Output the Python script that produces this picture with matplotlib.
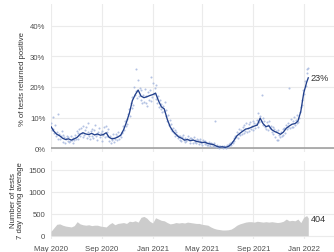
import matplotlib
matplotlib.use("Agg")
import matplotlib.pyplot as plt
import matplotlib.dates as mdates
import numpy as np
import pandas as pd

plt.rcParams['font.family'] = ['Liberation Sans', 'DejaVu Sans']

start = pd.Timestamp("2020-05-01")

# daily positivity (%), one value every 2 days from 1 May 2020
daily_pct = [
    8.1, 5.9, 10.2, 6.3, 4.8, 7.5, 3.9,
    5.2, 3.1, 11.3, 4.6, 2.8, 3.9, 5.6,
    2.1, 4.3, 3.5, 1.8, 2.9, 4.1, 2.4,
    3.6, 1.9, 2.2, 4.0, 2.7, 1.5, 3.3,
    2.6, 4.4, 3.1, 5.5, 2.9, 4.8, 6.1,
    3.8, 6.4, 4.9, 3.7, 7.1, 4.2, 5.8,
    6.9, 3.4, 5.2, 8.3, 4.0, 2.9, 5.6,
    4.1, 6.2, 3.3, 5.9, 7.4, 3.8, 4.6,
    2.7, 5.4, 6.6, 3.5, 4.9, 2.4, 5.7,
    4.3, 6.8, 3.6, 7.2, 5.1, 4.0, 6.3,
    2.2, 4.1, 1.8, 3.4, 2.6, 4.5, 1.9,
    3.0, 4.6, 2.5, 3.9, 5.1, 2.8, 4.2,
    3.6, 5.4, 4.8, 7.3, 5.9, 8.8, 7.1,
    9.6, 7.8, 11.2, 12.9, 10.4, 14.6, 13.1,
    16.8, 14.2, 20.1, 17.3, 25.8, 18.6, 16.4,
    22.4, 17.2, 19.8, 15.6, 18.9, 14.8, 17.5,
    15.1, 19.3, 14.6, 16.9, 13.8, 18.2, 15.7,
    19.1, 15.4, 23.2, 16.6, 21.4, 17.8, 19.6,
    16.2, 20.7, 14.9, 17.1, 13.6, 15.8, 12.9,
    14.4, 11.8, 13.9, 12.2, 15.0, 10.6, 12.5,
    8.7, 10.9, 7.4, 9.1, 6.3, 7.8, 5.6,
    6.4, 4.8, 5.9, 3.9, 5.2, 4.4, 3.4,
    4.1, 2.7, 3.8, 2.4, 3.5, 4.3, 2.6,
    1.9, 3.4, 2.2, 3.1, 4.0, 2.5, 3.3,
    1.8, 3.2, 2.9, 1.6, 3.6, 2.1, 2.7,
    1.5, 3.0, 2.6, 1.4, 2.8, 2.3, 1.7,
    1.1, 2.5, 1.9, 1.3, 2.2, 1.6, 1.0,
    0.9, 2.0, 1.4, 0.8, 1.7, 1.2, 0.6,
    1.5, 0.7, 9.0, 0.4, 1.1, 0.2, 0.6,
    0.1, 0.8, 0.2, 0.5, 0.0, 0.7, 0.3,
    0.4, 0.1, 0.9, 0.3, 1.4, 0.6, 1.8,
    0.9, 2.1, 1.6, 3.2, 2.4, 4.1, 3.5,
    5.2, 3.3, 4.7, 6.1, 4.2, 5.8, 4.6,
    6.9, 4.8, 7.4, 5.6, 8.1, 5.2, 6.7,
    7.8, 5.5, 8.6, 6.2, 7.1, 9.0, 5.9,
    8.3, 6.4, 7.9, 9.2, 6.8, 11.4, 8.5,
    10.6, 8.7, 17.4, 9.9, 7.6, 8.8, 6.9,
    6.1, 8.4, 5.8, 7.7, 8.9, 6.5, 7.3,
    5.1, 7.0, 4.6, 6.3, 3.7, 5.5, 2.6,
    2.5, 5.9, 4.2, 3.6, 5.4, 4.0, 6.2,
    4.4, 6.6, 5.0, 7.5, 6.1, 8.2, 6.8,
    19.8, 6.4, 9.6, 7.0, 8.8, 6.9, 10.3,
    7.4, 9.3, 8.1, 10.7, 8.6, 9.8, 11.9,
    13.5, 15.8, 14.2, 19.1, 17.6, 21.8, 20.3,
    25.8, 24.6, 26.1,
]

# 7 day average positivity (%), weekly from 1 May 2020, last point 11 Jan 2022
avg_pct = [
    7.0, 5.5, 4.5, 4.0, 3.2, 2.8, 3.0, 2.6, 3.0, 3.5,
    4.5, 5.0, 4.6, 4.4, 4.8, 4.3, 4.6, 4.2, 4.4, 5.0,
    3.5, 3.0, 3.2, 3.6, 4.2, 6.0, 8.5, 11.5, 15.5, 17.5,
    19.0, 17.0, 16.5, 16.8, 17.2, 17.5, 18.0, 15.5, 13.5, 12.8,
    9.5, 7.0, 5.5, 4.5, 3.6, 3.2, 2.6, 2.8, 2.4, 2.6,
    2.2, 2.0, 1.8, 1.9, 1.5, 1.3, 1.1, 0.6, 0.3, 0.4,
    0.2, 0.5, 1.2, 2.5, 4.0, 4.8, 5.5, 6.2, 6.4, 6.8,
    7.2, 7.5, 9.8, 8.0, 7.0, 7.3, 6.0, 5.4, 5.0, 4.5,
    5.2, 6.5, 7.2, 7.8, 8.0, 8.8, 12.0, 18.0, 21.5, 23.0,
]

# number of tests, 7 day moving average, same dates as avg_pct
tests_avg = [
    100, 180, 260, 270, 240, 220, 210, 200, 230, 320,
    270, 250, 240, 250, 230, 240, 240, 220, 210, 200,
    260, 300, 250, 280, 290, 300, 280, 330, 320, 340,
    310, 420, 440, 400, 330, 290, 410, 380, 350, 340,
    300, 270, 280, 300, 290, 300, 290, 310, 300, 290,
    280, 280, 260, 250, 240, 200, 170, 150, 140, 130,
    130, 135, 150, 190, 240, 270, 290, 310, 320, 320,
    310, 330, 320, 310, 320, 310, 320, 310, 300, 310,
    330, 380, 340, 350, 340, 380, 300, 420, 460, 404,
]

daily_dates = pd.date_range(start, periods=len(daily_pct), freq="2D")
avg_dates = list(pd.date_range(start, periods=len(avg_pct) - 1, freq="7D")) + [pd.Timestamp("2022-01-11")]

xmin = start
xmax = pd.Timestamp("2022-03-14")
grid_c = "#ebebeb"
tick_c = "#4d4d4d"
fs = 5.6

fig = plt.figure(figsize=(3.34, 2.53), dpi=100)
ax1 = fig.add_axes([0.1527, 0.3953, 0.8473, 0.585])
ax2 = fig.add_axes([0.1527, 0.0514, 0.8473, 0.3095])

for ax in (ax1, ax2):
    for s in ax.spines.values():
        s.set_visible(False)
    ax.set_xlim(xmin, xmax)
    ax.xaxis.set_major_locator(mdates.MonthLocator(bymonth=[1, 5, 9]))
    ax.xaxis.set_major_formatter(mdates.DateFormatter("%b %Y"))
    ax.grid(True, color=grid_c, linewidth=0.8)
    ax.set_axisbelow(True)
    ax.tick_params(length=0, labelsize=fs, labelcolor=tick_c, pad=4)

# top panel
ax1.axhline(0, color="#999999", linewidth=1.1, zorder=1)
ax1.scatter(daily_dates, daily_pct, s=2.2, color="#a6b8de", alpha=0.85, linewidths=0, zorder=2)
ax1.plot(avg_dates, avg_pct, color="#22408c", linewidth=0.95, zorder=3)
ax1.set_ylim(-1.3, 47.2)
ax1.set_yticks([0, 10, 20, 30, 40])
ax1.set_yticklabels(["0%", "10%", "20%", "30%", "40%"])
ax1.tick_params(axis="x", labelbottom=False)
ax1.set_ylabel("% of tests returned positive", fontsize=fs, color="#333333", labelpad=3)
ax1.text(avg_dates[-1] + pd.Timedelta(days=6), avg_pct[-1], "%d%%" % round(avg_pct[-1]),
         fontsize=6.6, color="#333333", va="center", ha="left")

# bottom panel
ax2.fill_between(avg_dates, tests_avg, 0, color="#cccccc", linewidth=0, zorder=2)
ax2.set_ylim(-75, 1712)
ax2.set_yticks([0, 500, 1000, 1500])
ax2.set_ylabel("Number of tests\n7 day moving average", fontsize=fs, color="#333333",
               labelpad=3, linespacing=0.95)
ax2.text(avg_dates[-1] + pd.Timedelta(days=5), tests_avg[-1], str(tests_avg[-1]),
         fontsize=6.6, color="#333333", va="center", ha="left")

fig.savefig("out.png", dpi=100)
